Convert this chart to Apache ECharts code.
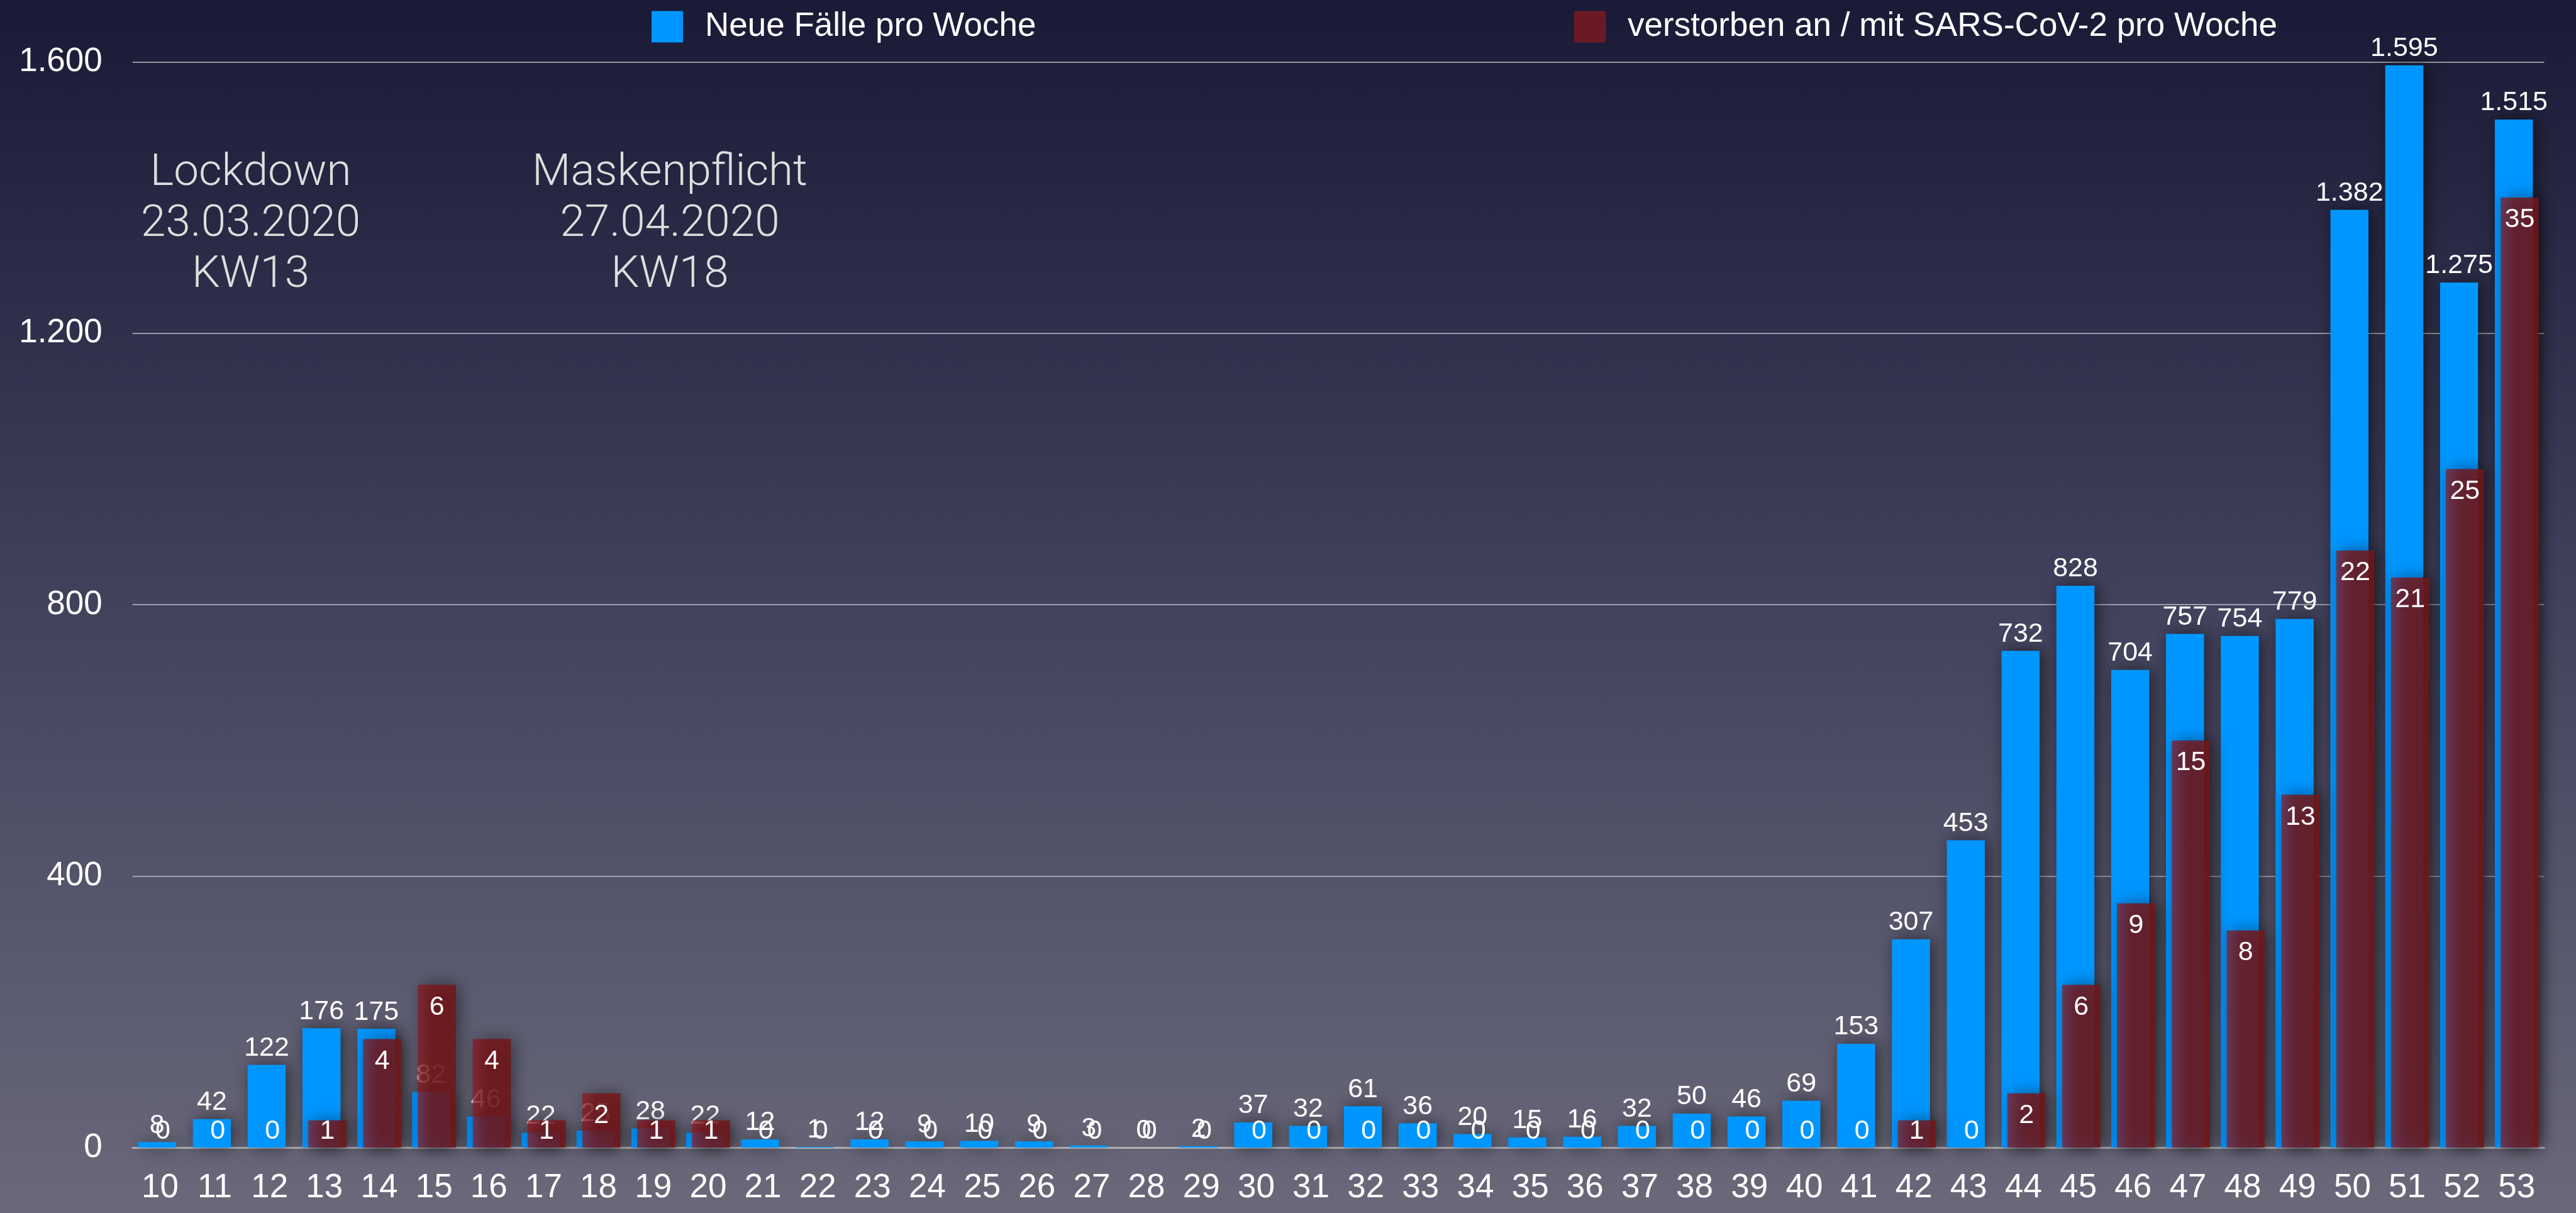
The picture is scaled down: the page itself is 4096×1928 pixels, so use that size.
<!DOCTYPE html>
<html>
<head>
<meta charset="utf-8">
<script src="https://cdn.jsdelivr.net/npm/echarts@6/dist/echarts.min.js"></script>
<style>
  html, body { margin: 0; padding: 0; background: #1a1a37; }
  #chart { width: 4096px; height: 1928px; }
</style>
</head>
<body>
<div id="chart"></div>
<script>
// Kalenderwochen 2020
const weeks = ['10','11','12','13','14','15','16','17','18','19','20','21','22','23','24','25','26','27','28','29','30','31',
               '32','33','34','35','36','37','38','39','40','41','42','43','44','45','46','47','48','49','50','51','52','53'];

// Neue Fälle pro Woche
const newCases = [8, 42, 122, 176, 175, 82, 46, 22, 25, 28, 22, 12, 1, 12, 9, 10, 9, 3, 0, 2, 37, 32,
                  61, 36, 20, 15, 16, 32, 50, 46, 69, 153, 307, 453, 732, 828, 704, 757, 754, 779, 1382, 1595, 1275, 1515];

// Verstorben an / mit SARS-CoV-2 pro Woche
const deaths = [0, 0, 0, 1, 4, 6, 4, 1, 2, 1, 1, 0, 0, 0, 0, 0, 0, 0, 0, 0, 0, 0,
                0, 0, 0, 0, 0, 0, 0, 0, 0, 0, 1, 0, 2, 6, 9, 15, 8, 13, 22, 21, 25, 35];

// Achsen
const caseTicks = [0, 400, 800, 1200, 1600];
const deathAxisMax = 40;

const seriesNames = ['Neue Fälle pro Woche', 'verstorben an / mit SARS-CoV-2 pro Woche'];

// Hinweise
const notes = [
  { week: '13', text: 'Lockdown\n23.03.2020\nKW13' },
  { week: '18', text: 'Maskenpflicht\n27.04.2020\nKW18' }
];

const FONT = '"Liberation Sans", Arial, Helvetica, sans-serif';
const fmt = v => String(v).replace(/\B(?=(\d{3})+(?!\d))/g, '.');

const gridLeft = 210.8, gridRight = 50.6, gridTop = 98.4, gridBottom = 104;
const noteX = [398.6, 1065];

const barShadow = {
  shadowColor: 'rgba(0,0,0,0.55)',
  shadowBlur: 26,
  shadowOffsetX: 5,
  shadowOffsetY: 0
};

// kleine Werte: Beschriftung am Fuß des Balkens, sonst oben im Balken
const deathData = deaths.map(v => ({
  value: v,
  label: v <= 1
    ? { position: 'insideBottom', distance: 4 }
    : { position: 'insideTop', distance: 14 }
}));

const chart = echarts.init(document.getElementById('chart'), null, { renderer: 'canvas' });

chart.setOption({
  animation: false,
  backgroundColor: {
    type: 'linear', x: 0, y: 0, x2: 0, y2: 1,
    colorStops: [
      { offset: 0, color: '#1a1a37' },
      { offset: 0.5, color: '#42425d' },
      { offset: 1, color: '#6a697a' }
    ]
  },
  legend: [
    {
      data: [{ name: seriesNames[0], itemStyle: { color: '#0096ff', shadowBlur: 0 } }],
      left: 1036, top: 16, padding: 0,
      icon: 'rect', itemWidth: 50, itemHeight: 50,
      selectedMode: false,
      textStyle: { color: '#ffffff', fontSize: 53, fontFamily: FONT, padding: [0, 0, 0, 30] }
    },
    {
      data: [{ name: seriesNames[1], itemStyle: { color: '#6b1a23', shadowBlur: 0 } }],
      left: 2503, top: 16, padding: 0,
      icon: 'rect', itemWidth: 50, itemHeight: 50,
      selectedMode: false,
      textStyle: { color: '#ffffff', fontSize: 53, fontFamily: FONT, padding: [0, 0, 0, 30] }
    }
  ],
  grid: { left: gridLeft, right: gridRight, top: gridTop, bottom: gridBottom, containLabel: false },
  xAxis: {
    type: 'category',
    data: weeks,
    axisTick: { show: false },
    axisLine: { show: true, lineStyle: { color: '#bcbcbc', width: 2.5 } },
    axisLabel: { color: '#ffffff', fontSize: 53, fontFamily: FONT, margin: 38 },
    splitLine: { show: false }
  },
  yAxis: [
    {
      type: 'value',
      min: caseTicks[0], max: caseTicks[caseTicks.length - 1], interval: caseTicks[1] - caseTicks[0],
      axisLine: { show: false },
      axisTick: { show: false },
      axisLabel: { color: '#ffffff', fontSize: 53, fontFamily: FONT, margin: 48, formatter: v => fmt(v) },
      splitLine: { show: true, lineStyle: { color: 'rgba(200,200,205,0.7)', width: 2 } }
    },
    {
      type: 'value',
      min: 0, max: deathAxisMax,
      show: false,
      splitLine: { show: false }
    }
  ],
  series: [
    {
      name: seriesNames[0],
      type: 'bar',
      yAxisIndex: 0,
      data: newCases,
      barWidth: 60.5,
      barGap: '-84.7%',
      z: 2,
      itemStyle: Object.assign({ color: '#0096ff' }, barShadow),
      label: {
        show: true, position: 'top', distance: 5,
        color: '#ffffff', fontSize: 43, fontFamily: FONT,
        formatter: p => fmt(p.value)
      }
    },
    {
      name: seriesNames[1],
      type: 'bar',
      yAxisIndex: 1,
      data: deathData,
      barWidth: 60.5,
      barGap: '-84.7%',
      z: 3,
      itemStyle: Object.assign({
        color: {
          type: 'linear', x: 0, y: 0, x2: 1, y2: 0,
          colorStops: [
            { offset: 0, color: 'rgba(142,24,32,0.70)' },
            { offset: 0.35, color: 'rgba(120,22,26,0.82)' },
            { offset: 1, color: 'rgba(116,22,24,0.85)' }
          ]
        }
      }, barShadow),
      label: {
        show: true,
        color: '#ffffff', fontSize: 43, fontFamily: FONT
      }
    }
  ],
  graphic: notes.map((n, i) => ({
    type: 'text',
    x: noteX[i],
    y: 236,
    z: 10,
    style: {
      text: n.text,
      fill: '#dedede',
      font: '300 71px Roboto, "Liberation Sans", sans-serif',
      align: 'center',
      verticalAlign: 'top',
      lineHeight: 81
    }
  }))
});
</script>
</body>
</html>
